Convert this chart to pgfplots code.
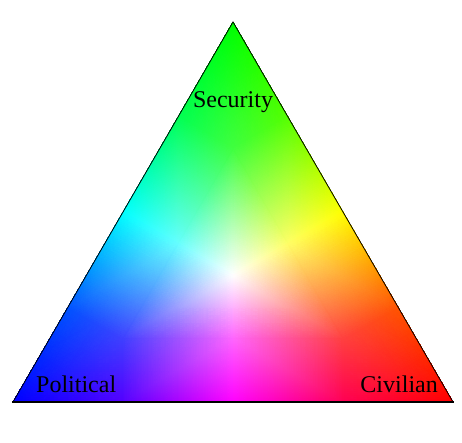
\documentclass[border=0pt]{standalone}
\usepackage{fontspec}
\setmainfont{Liberation Serif}
\usepackage{pgfplots}
\pgfplotsset{compat=1.18}
\begin{document}
\begin{tikzpicture}
\useasboundingbox (0,0) rectangle (462pt,442pt);
\begin{axis}[
  at={(0,0)}, anchor=south west,
  width=462pt, height=442pt, scale only axis,
  hide axis, xmin=0, xmax=462, ymin=0, ymax=442,
  clip=false,
]
\addplot[patch, patch type=triangle, shader=interp, mesh/color input=explicit, point meta=explicit symbolic]
 table[meta=c] {
x y c
233 420 rgb=0,1,0
288 325 rgb=0.333,1,0
233 293.33 rgb=0.25,1,0.25
288 325 rgb=0.333,1,0
343 230 rgb=1,1,0
288 198.33 rgb=1,1,0.4
233 293.33 rgb=0.25,1,0.25
288 198.33 rgb=1,1,0.4
233 166.67 rgb=1,1,1
288 325 rgb=0.333,1,0
288 198.33 rgb=1,1,0.4
233 293.33 rgb=0.25,1,0.25
233 420 rgb=0,1,0
178 325 rgb=0,1,0.333
233 293.33 rgb=0.25,1,0.25
178 325 rgb=0,1,0.333
123 230 rgb=0,1,1
178 198.33 rgb=0.4,1,1
233 293.33 rgb=0.25,1,0.25
178 198.33 rgb=0.4,1,1
233 166.67 rgb=1,1,1
178 325 rgb=0,1,0.333
178 198.33 rgb=0.4,1,1
233 293.33 rgb=0.25,1,0.25
13 40 rgb=0,0,1
68 135 rgb=0,0.333,1
123 103.33 rgb=0.25,0.25,1
68 135 rgb=0,0.333,1
123 230 rgb=0,1,1
178 198.33 rgb=0.4,1,1
123 103.33 rgb=0.25,0.25,1
178 198.33 rgb=0.4,1,1
233 166.67 rgb=1,1,1
68 135 rgb=0,0.333,1
178 198.33 rgb=0.4,1,1
123 103.33 rgb=0.25,0.25,1
13 40 rgb=0,0,1
123 40 rgb=0.333,0,1
123 103.33 rgb=0.25,0.25,1
123 40 rgb=0.333,0,1
233 40 rgb=1,0,1
233 103.33 rgb=1,0.4,1
123 103.33 rgb=0.25,0.25,1
233 103.33 rgb=1,0.4,1
233 166.67 rgb=1,1,1
123 40 rgb=0.333,0,1
233 103.33 rgb=1,0.4,1
123 103.33 rgb=0.25,0.25,1
453 40 rgb=1,0,0
343 40 rgb=1,0,0.333
343 103.33 rgb=1,0.25,0.25
343 40 rgb=1,0,0.333
233 40 rgb=1,0,1
233 103.33 rgb=1,0.4,1
343 103.33 rgb=1,0.25,0.25
233 103.33 rgb=1,0.4,1
233 166.67 rgb=1,1,1
343 40 rgb=1,0,0.333
233 103.33 rgb=1,0.4,1
343 103.33 rgb=1,0.25,0.25
453 40 rgb=1,0,0
398 135 rgb=1,0.333,0
343 103.33 rgb=1,0.25,0.25
398 135 rgb=1,0.333,0
343 230 rgb=1,1,0
288 198.33 rgb=1,1,0.4
343 103.33 rgb=1,0.25,0.25
288 198.33 rgb=1,1,0.4
233 166.67 rgb=1,1,1
398 135 rgb=1,0.333,0
288 198.33 rgb=1,1,0.4
343 103.33 rgb=1,0.25,0.25
};
\addplot[black, line width=0.8pt] coordinates {(13,40) (233,420) (453,40)};
\addplot[black, line width=1.6pt] coordinates {(12,40) (454,40)};
\node[anchor=base, inner sep=0pt, font=\fontsize{24}{28}\selectfont] at (axis cs:233,334) {Security};
\node[anchor=base west, inner sep=0pt, font=\fontsize{24}{28}\selectfont] at (axis cs:36,50) {Political};
\node[anchor=base east, inner sep=0pt, font=\fontsize{24}{28}\selectfont] at (axis cs:438,50) {Civilian};
\end{axis}
\end{tikzpicture}
\end{document}
